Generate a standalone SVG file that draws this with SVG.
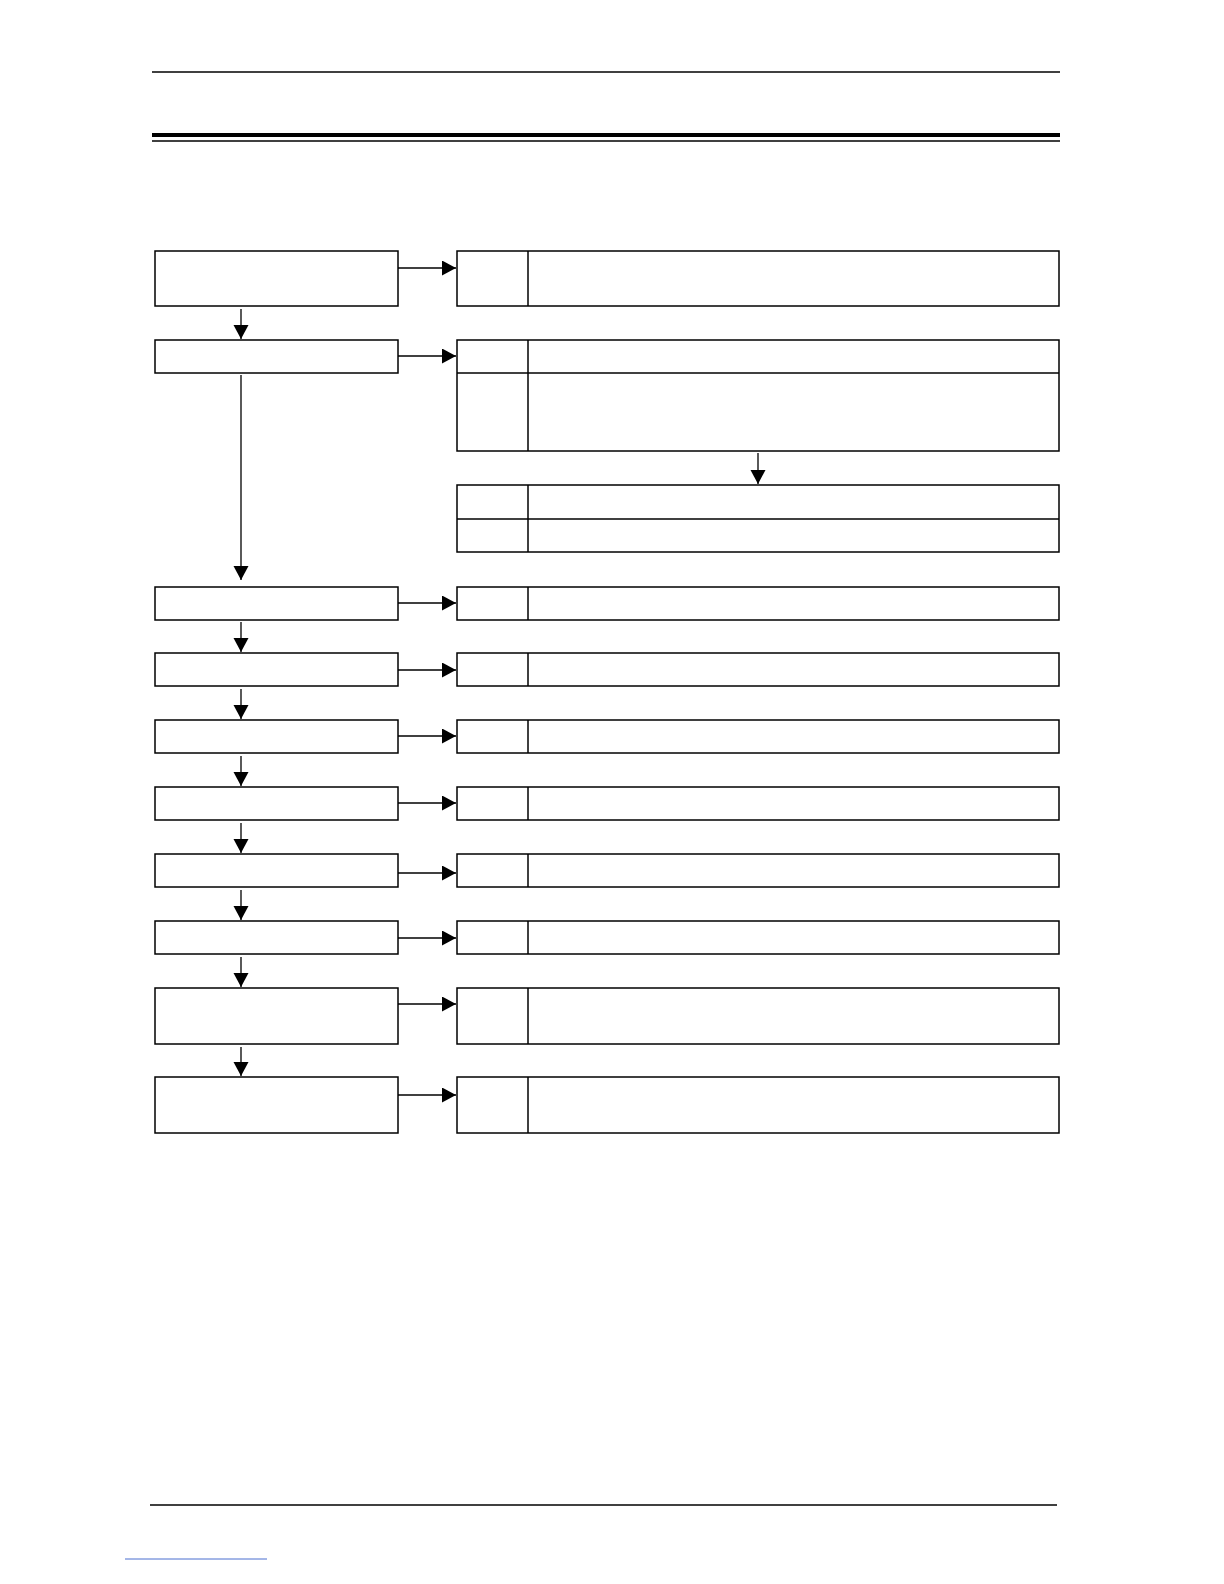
<svg xmlns="http://www.w3.org/2000/svg" width="1224" height="1584" viewBox="0 0 1224 1584">
<defs>
<style>
.box{fill:#fff;stroke:#000;stroke-width:1.5}
.ln{stroke:#000;stroke-width:1.5;fill:none}
.con{stroke:#000;stroke-width:1.3;fill:none;marker-end:url(#ah)}
</style>
<marker id="ah" markerUnits="userSpaceOnUse" markerWidth="16" markerHeight="16" refX="14" refY="7.5" orient="auto">
<path d="M0,0 L14,7.5 L0,15 Z" fill="#000"/>
</marker>
</defs>
<rect width="1224" height="1584" fill="#fff"/>
<g id="page">
<line x1="152" y1="72" x2="1060" y2="72" stroke="#000" stroke-width="1.3"/>
<line x1="152" y1="135" x2="1060" y2="135" stroke="#000" stroke-width="4"/>
<line x1="152" y1="141" x2="1060" y2="141" stroke="#000" stroke-width="1.3"/>
<line x1="150" y1="1505" x2="1057" y2="1505" stroke="#000" stroke-width="1.3"/>
<line x1="125" y1="1559" x2="267" y2="1559" stroke="#4a6fd0" stroke-width="1"/>
</g>
<g id="L1"><rect class="box" x="155" y="251" width="243" height="55"/></g>
<g id="L2"><rect class="box" x="155" y="340" width="243" height="33"/></g>
<g id="L3"><rect class="box" x="155" y="587" width="243" height="33"/></g>
<g id="L4"><rect class="box" x="155" y="653" width="243" height="33"/></g>
<g id="L5"><rect class="box" x="155" y="720" width="243" height="33"/></g>
<g id="L6"><rect class="box" x="155" y="787" width="243" height="33"/></g>
<g id="L7"><rect class="box" x="155" y="854" width="243" height="33"/></g>
<g id="L8"><rect class="box" x="155" y="921" width="243" height="33"/></g>
<g id="L9"><rect class="box" x="155" y="988" width="243" height="56"/></g>
<g id="L10"><rect class="box" x="155" y="1077" width="243" height="56"/></g>
<g id="R1"><rect class="box" x="457" y="251" width="602" height="55"/><line class="ln" x1="528" y1="251" x2="528" y2="306"/></g>
<g id="R2"><rect class="box" x="457" y="340" width="602" height="111"/><line class="ln" x1="457" y1="373" x2="1059" y2="373"/><line class="ln" x1="528" y1="340" x2="528" y2="451"/></g>
<g id="R3"><rect class="box" x="457" y="485" width="602" height="67"/><line class="ln" x1="457" y1="519" x2="1059" y2="519"/><line class="ln" x1="528" y1="485" x2="528" y2="552"/></g>
<g id="R4"><rect class="box" x="457" y="587" width="602" height="33"/><line class="ln" x1="528" y1="587" x2="528" y2="620"/></g>
<g id="R5"><rect class="box" x="457" y="653" width="602" height="33"/><line class="ln" x1="528" y1="653" x2="528" y2="686"/></g>
<g id="R6"><rect class="box" x="457" y="720" width="602" height="33"/><line class="ln" x1="528" y1="720" x2="528" y2="753"/></g>
<g id="R7"><rect class="box" x="457" y="787" width="602" height="33"/><line class="ln" x1="528" y1="787" x2="528" y2="820"/></g>
<g id="R8"><rect class="box" x="457" y="854" width="602" height="33"/><line class="ln" x1="528" y1="854" x2="528" y2="887"/></g>
<g id="R9"><rect class="box" x="457" y="921" width="602" height="33"/><line class="ln" x1="528" y1="921" x2="528" y2="954"/></g>
<g id="R10"><rect class="box" x="457" y="988" width="602" height="56"/><line class="ln" x1="528" y1="988" x2="528" y2="1044"/></g>
<g id="R11"><rect class="box" x="457" y="1077" width="602" height="56"/><line class="ln" x1="528" y1="1077" x2="528" y2="1133"/></g>
<g id="connectors">
<line class="con" x1="398" y1="268" x2="456" y2="268"/>
<line class="con" x1="398" y1="356" x2="456" y2="356"/>
<line class="con" x1="398" y1="603" x2="456" y2="603"/>
<line class="con" x1="398" y1="670" x2="456" y2="670"/>
<line class="con" x1="398" y1="736" x2="456" y2="736"/>
<line class="con" x1="398" y1="803" x2="456" y2="803"/>
<line class="con" x1="398" y1="873" x2="456" y2="873"/>
<line class="con" x1="398" y1="938" x2="456" y2="938"/>
<line class="con" x1="398" y1="1004" x2="456" y2="1004"/>
<line class="con" x1="398" y1="1095" x2="456" y2="1095"/>
<line class="con" x1="241" y1="309" x2="241" y2="339"/>
<line class="con" x1="241" y1="375" x2="241" y2="580"/>
<line class="con" x1="241" y1="622" x2="241" y2="652"/>
<line class="con" x1="241" y1="689" x2="241" y2="719"/>
<line class="con" x1="241" y1="756" x2="241" y2="786"/>
<line class="con" x1="241" y1="823" x2="241" y2="853"/>
<line class="con" x1="241" y1="890" x2="241" y2="920"/>
<line class="con" x1="241" y1="957" x2="241" y2="987"/>
<line class="con" x1="241" y1="1047" x2="241" y2="1076"/>
<line class="con" x1="758" y1="453" x2="758" y2="484"/>
</g>
</svg>
